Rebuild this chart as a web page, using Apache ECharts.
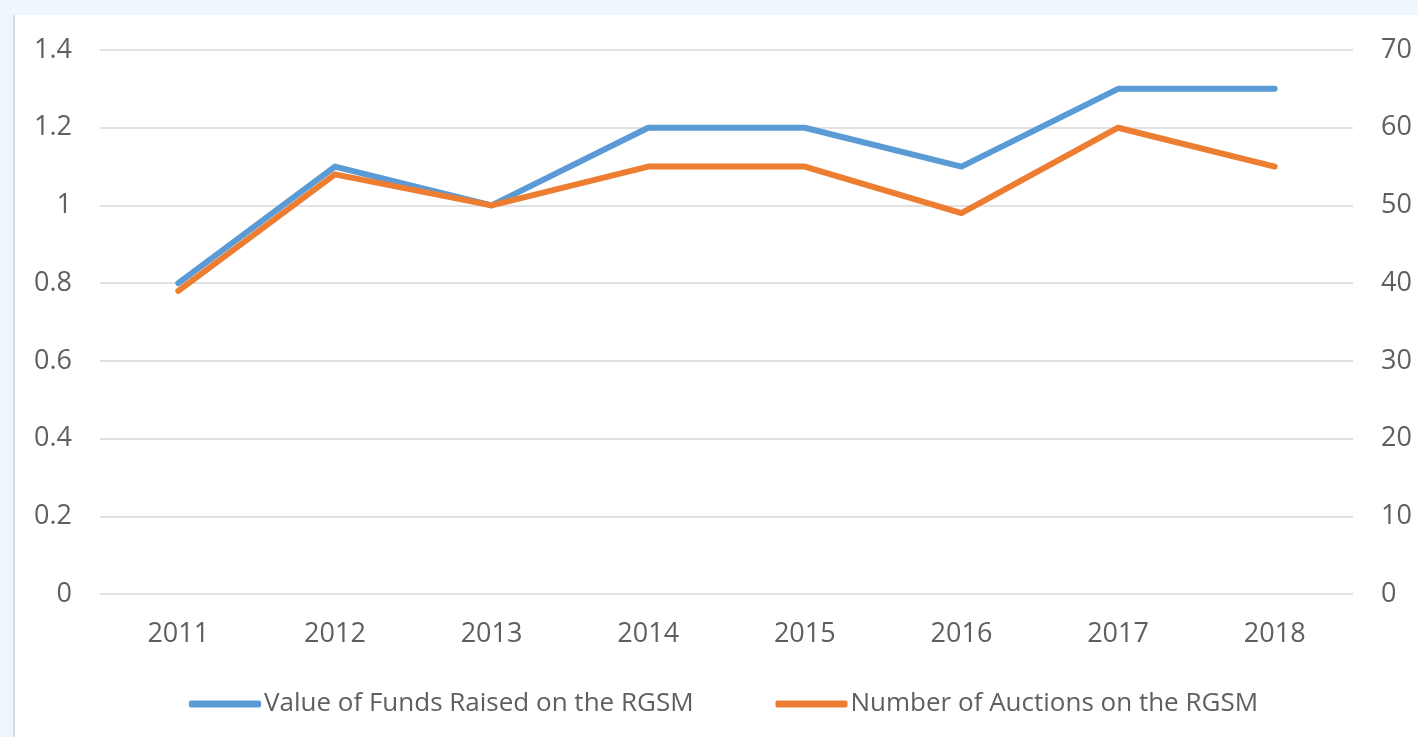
<!DOCTYPE html>
<html>
<head>
<meta charset="utf-8">
<script src="https://cdn.jsdelivr.net/npm/echarts@6/dist/echarts.min.js"></script>
<style>
	html, body { margin: 0; padding: 0; background: #eef7fd; }
	#chart {
		position: absolute;
		left: 13px;
		top: 15px;
		width: 1405px;
		height: 722px;
		background: #fff;
		border-left: 2px solid #d9d9d9;
		box-sizing: border-box;
	}
</style>
</head>
<body>
<div id="chart"></div>
<script>
//年份
var years = ['2011', '2012', '2013', '2014', '2015', '2016', '2017', '2018']
//两条线的数据
var fundsValue = [0.8, 1.1, 1.0, 1.2, 1.2, 1.1, 1.3, 1.3]
var auctionCount = [39, 54, 50, 55, 55, 49, 60, 55]
var seriesNames = ['Value of Funds Raised on the RGSM', 'Number of Auctions on the RGSM']

var labelFont = {
	color: '#5f5f5f',
	fontSize: 27,
	fontFamily: 'Open Sans'
}

var chartBox = document.getElementById('chart')
var myChart = echarts.init(chartBox)

var option = {
	animation: false,
	grid: {
		left: 85,
		right: 65,
		top: 35,
		bottom: 143
	},
	legend: {
		bottom: 15,
		left: 169,
		itemWidth: 72,
		itemHeight: 7,
		itemGap: 82,
		icon: 'roundRect',
		textStyle: {
			color: '#5f5f5f',
			fontSize: 26,
			fontFamily: 'Open Sans',
			padding: [0, 0, 0, -2]
		},
		data: seriesNames
	},
	xAxis: {
		type: 'category',
		data: years,
		boundaryGap: true,
		axisLine: { show: false },
		axisTick: { show: false },
		axisLabel: Object.assign({ margin: 27 }, labelFont)
	},
	yAxis: [{
		type: 'value',
		min: 0,
		max: 1.4,
		interval: 0.2,
		axisLine: { show: false },
		axisTick: { show: false },
		splitLine: { lineStyle: { color: '#d9d9d9', width: 1.5 } },
		axisLabel: Object.assign({
			margin: 28,
			formatter: function (v) {
				return parseFloat(v.toFixed(1)).toString()
			}
		}, labelFont)
	}, {
		type: 'value',
		min: 0,
		max: 70,
		interval: 10,
		axisLine: { show: false },
		axisTick: { show: false },
		splitLine: { show: false },
		axisLabel: Object.assign({ margin: 28 }, labelFont)
	}],
	series: [{
		name: seriesNames[0],
		type: 'line',
		yAxisIndex: 0,
		data: fundsValue,
		symbol: 'none',
		lineStyle: { width: 6, color: '#5b9bd5', cap: 'round', join: 'round' },
		itemStyle: { color: '#5b9bd5' }
	}, {
		name: seriesNames[1],
		type: 'line',
		yAxisIndex: 1,
		data: auctionCount,
		symbol: 'none',
		lineStyle: { width: 6, color: '#ed7d31', cap: 'round', join: 'round' },
		itemStyle: { color: '#ed7d31' }
	}]
}

myChart.setOption(option)
</script>
</body>
</html>
